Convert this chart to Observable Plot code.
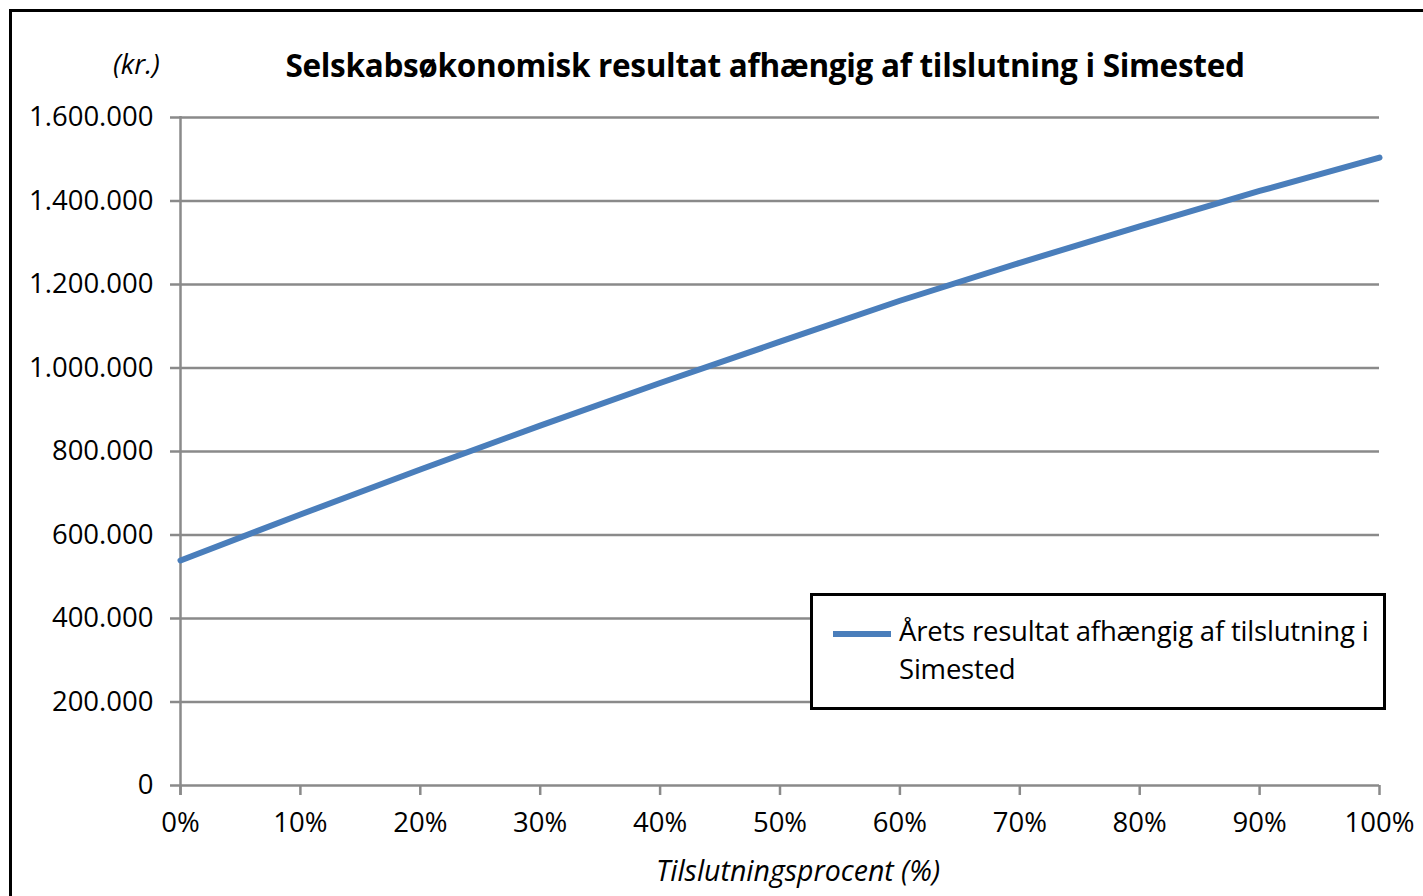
<!DOCTYPE html>
<html>
<head>
<meta charset="utf-8">
<script src="https://cdn.jsdelivr.net/npm/d3@7"></script>
<script src="https://cdn.jsdelivr.net/npm/@observablehq/plot@0.6"></script>
<style>
  html, body { margin: 0; padding: 0; background: #fff; }
  #wrap { position: relative; width: 1423px; height: 896px; overflow: hidden; font-family: "Open Sans", sans-serif; }
  #frame { position: absolute; left: 9px; top: 9px; width: 1600px; height: 1000px; border: 3px solid #000; box-sizing: border-box; }
  #chart { position: absolute; left: 0; top: 0; }
  .txt { position: absolute; white-space: nowrap; color: #000; }
  #title { left: 0; width: 1530px; text-align: center; top: 43px; font-size: 31.5px; font-weight: bold; letter-spacing: -0.3px; }
  #unit { left: 113px; top: 45px; font-size: 27.5px; font-style: italic; }
  #xlabel { left: 0; width: 1596px; text-align: center; top: 851px; font-size: 28.5px; font-style: italic; }
  #legend { position: absolute; left: 810px; top: 593px; width: 576px; height: 117px; border: 3px solid #000; box-sizing: border-box; background: #fff; }
  #legend .swatch { position: absolute; left: 20px; top: 35px; width: 58px; height: 6px; background: #4a7ebb; }
  #legend .lab { position: absolute; left: 86px; top: 16px; font-size: 27.5px; line-height: 38px; white-space: normal; width: 485px; letter-spacing: -0.2px; }
</style>
</head>
<body>
<div id="wrap">
  <div id="frame"></div>
  <div id="chart"></div>
  <div class="txt" id="title">Selskabsøkonomisk resultat afhængig af tilslutning i Simested</div>
  <div class="txt" id="unit">(kr.)</div>
  <div class="txt" id="xlabel">Tilslutningsprocent (%)</div>
  <div id="legend"><div class="swatch"></div><div class="lab">Årets resultat afhængig af tilslutning i<br>Simested</div></div>
</div>
<script>
const tilslutning = [0, 10, 20, 30, 40, 50, 60, 70, 80, 90, 100];
const resultat = [539000, 649000, 757000, 862000, 964000, 1063000, 1161000, 1252000, 1339000, 1424000, 1504000];
const yTicks = [0, 200000, 400000, 600000, 800000, 1000000, 1200000, 1400000, 1600000];
const xTicks = [0, 10, 20, 30, 40, 50, 60, 70, 80, 90, 100];
const seriesName = "Årets resultat afhængig af tilslutning i Simested";

const data = tilslutning.map((x, i) => ({x, y: resultat[i]}));
const dk = d3.formatLocale({decimal: ",", thousands: ".", grouping: [3], currency: ["", " kr."]});
const fmt = dk.format(",d");
const grid = "#8a8a8a";

const chart = Plot.plot({
  width: 1423,
  height: 896,
  marginLeft: 180,
  marginRight: 44,
  marginTop: 117,
  marginBottom: 111,
  style: {fontFamily: "'Open Sans', sans-serif", fontSize: "27.5px", color: "#000", background: "transparent"},
  x: {domain: [0, 100], ticks: xTicks},
  y: {domain: [0, 1600000], ticks: yTicks},
  marks: [
    Plot.gridY(yTicks, {stroke: grid, strokeOpacity: 1, strokeWidth: 2.5}),
    Plot.ruleX([0], {y1: 1600000, y2: 0, stroke: grid, strokeWidth: 2.5, insetTop: -1, insetBottom: -10}),
    Plot.axisY(yTicks, {tickSize: 10, tickPadding: 17, stroke: grid, strokeWidth: 2.5, tickFormat: fmt, fill: "#000", label: null}),
    Plot.axisX(xTicks, {tickSize: 10, tickPadding: 17, stroke: grid, strokeWidth: 2.5, tickFormat: d => d + "%", fill: "#000", label: null}),
    Plot.line(data, {x: "x", y: "y", stroke: "#4a7ebb", strokeWidth: 6, title: () => seriesName})
  ]
});
document.getElementById("chart").appendChild(chart);
</script>
</body>
</html>
